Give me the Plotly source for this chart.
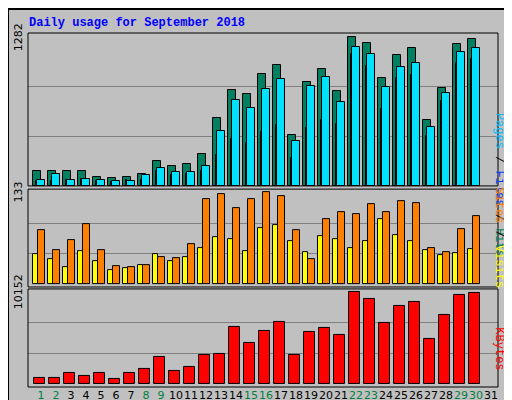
import plotly.graph_objects as go

days = list(range(1, 32))
hits = [125,133,125,133,81,72,81,107,212,168,186,273,586,829,794,968,1047,438,899,1012,821,1282,1230,934,1125,1186,568,847,1221,1264,None]
files = [55,99,55,64,55,46,46,90,151,116,116,168,473,742,673,838,925,386,864,943,725,1195,1134,856,1030,1064,508,803,1151,1186,None]
pages = [46,46,55,64,46,38,55,55,125,90,99,133,264,403,368,464,525,238,499,568,534,1134,1038,664,934,960,429,734,1064,1099,None]
visits = [78,49,64,87,49,26,25,27,39,38,58,124,130,111,124,133,127,78,36,95,105,101,116,104,121,117,52,46,80,98,None]
sites = [43,36,25,48,33,20,23,27,43,33,39,52,68,65,48,82,85,62,46,69,66,52,62,95,71,62,49,42,45,51,None]
kbytes = [593,593,1149,815,1149,482,1149,1593,2927,1371,1815,3149,3260,6261,4483,5817,6817,3149,5706,6150,5372,10152,9374,6706,8596,9040,4928,7595,9818,10041,None]
weekend = {1,2,8,9,15,16,22,23,29,30}
ticktext = [f'<span style="color:{"#008040" if d in weekend else "black"}">{d}</span>' for d in days]

fig = go.Figure()
def bar(y, color, off, w, ax):
    fig.add_trace(go.Bar(x=days, y=y, marker=dict(color=color, line=dict(color="black", width=1)),
                         offset=off, width=w, yaxis=ax, xaxis="x", showlegend=False))
bar(hits, "#008060", -0.53, 0.51, "y")
bar(pages, "#0040ff", -0.35, 0.10, "y")
bar(files, "#00e0ff", -0.25, 0.50, "y")
bar(sites, "#ffff00", -0.53, 0.31, "y2")
bar(visits, "#ff8000", -0.22, 0.47, "y3")
bar(kbytes, "#ff0000", -0.47, 0.72, "y4")

grid = dict(showgrid=True, gridcolor="#808080", gridwidth=1, showticklabels=False, zeroline=False,
            ticks="", showline=False, automargin=False)
fig.update_layout(
    width=512, height=400, margin=dict(l=20, r=22, t=25, b=21, autoexpand=False),
    paper_bgcolor="#c0c0c0", plot_bgcolor="#c0c0c0", barmode="overlay", bargap=0,
    font=dict(family="Liberation Mono", size=11),
    xaxis=dict(range=[0.133, 31.47], tickvals=days, ticktext=ticktext, showgrid=False, zeroline=False,
               ticks="", tickangle=0, automargin=False, tickfont=dict(family="DejaVu Sans", size=11), anchor="y4"),
    yaxis=dict(domain=[0.568, 1], range=[0, 1319], tickvals=[427, 855], **grid),
    yaxis2=dict(domain=[0.2825, 0.559], range=[-4, 137.8], tickvals=[44.3, 88.7], **grid),
    yaxis3=dict(domain=[0.2825, 0.559], range=[-4, 137.8], overlaying="y2", showgrid=False,
                showticklabels=False, zeroline=False, automargin=False),
    yaxis4=dict(domain=[0, 0.277], range=[-367, 10519], tickvals=[3384, 6768], **grid),
)
shapes = []
for y0, y1 in [(0.568, 1), (0.2825, 0.559), (0, 0.277)]:
    shapes.append(dict(type="rect", xref="paper", yref="paper", x0=0, x1=1, y0=y0, y1=y1,
                       line=dict(color="black", width=1)))
shapes.append(dict(type="rect", xref="paper", yref="paper", x0=-20/470, x1=1+21/470, y0=-20/354, y1=1+24/354,
                   line=dict(color="black", width=2), layer="below"))
fig.update_layout(shapes=shapes)
lab = dict(size=11, family="DejaVu Sans", color="black")
anns = [
    dict(text="<b>Daily usage for September 2018</b>", xref="paper", yref="paper", x=-0.002, y=1+10/354,
         xanchor="left", yanchor="middle", showarrow=False, font=dict(color="#0000ff", size=12, family="Liberation Mono")),
    dict(text="1282", textangle=-90, xref="paper", yref="y", x=-10/470, y=1282, xanchor="center", yanchor="middle",
         showarrow=False, font=lab),
    dict(text="133", textangle=-90, xref="paper", yref="y2", x=-10/470, y=133, xanchor="center", yanchor="middle",
         showarrow=False, font=lab),
    dict(text="10152", textangle=-90, xref="paper", yref="y4", x=-10/470, y=10152, xanchor="center", yanchor="middle",
         showarrow=False, font=lab),
    dict(text='<span style="color:#00c0ff">Pages</span> / <span style="color:#0040ff">Files</span> / <span style="color:#008060">Hits</span>',
         textangle=90, xref="paper", yref="paper", x=1+10/470, y=0.78, showarrow=False,
         font=dict(size=12, family="Liberation Mono", color="black")),
    dict(text='<span style="color:#ff8000">Sites</span> / <span style="color:#ffff00">Visits</span>',
         textangle=90, xref="paper", yref="paper", x=1+10/470, y=0.42, showarrow=False,
         font=dict(size=12, family="Liberation Mono", color="black")),
    dict(text='<span style="color:#ff0000">KBytes</span>',
         textangle=90, xref="paper", yref="paper", x=1+10/470, y=0.04, showarrow=False,
         font=dict(size=12, family="Liberation Mono", color="black")),
]
fig.update_layout(annotations=anns)
fig.write_html("out.html")
